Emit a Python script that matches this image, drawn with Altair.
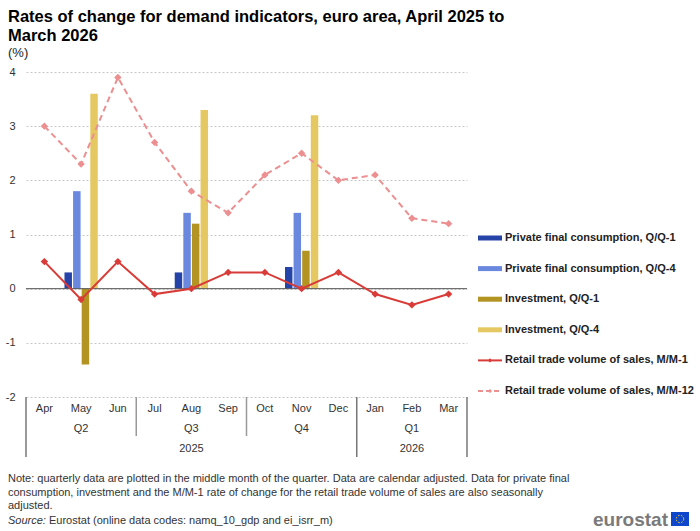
import altair as alt
import pandas as pd

months = ["Apr", "May", "Jun", "Jul", "Aug", "Sep", "Oct", "Nov", "Dec", "Jan", "Feb", "Mar"]
quarter_months = ["May", "Aug", "Nov"]
quarter_labels = ["Q2", "Q3", "Q4", "Q1"]
quarter_label_months = ["May", "Aug", "Nov", "Feb"]
year_labels = ["2025", "2026"]
year_label_months = ["Aug", "Feb"]
quarter_starts = ["Jul", "Oct"]
year_starts = ["Apr", "Jan"]

bar_series = ["Private final consumption, Q/Q-1", "Private final consumption, Q/Q-4",
              "Investment, Q/Q-1", "Investment, Q/Q-4"]
pfc_qq1 = [0.3, 0.3, 0.4]
pfc_qq4 = [1.8, 1.4, 1.4]
inv_qq1 = [-1.4, 1.2, 0.7]
inv_qq4 = [3.6, 3.3, 3.2]

line_series = ["Retail trade volume of sales, M/M-1", "Retail trade volume of sales, M/M-12"]
retail_mm1 = [0.5, -0.2, 0.5, -0.1, 0.0, 0.3, 0.3, 0.0, 0.3, -0.1, -0.3, -0.1]
retail_mm12 = [3.0, 2.3, 3.9, 2.7, 1.8, 1.4, 2.1, 2.5, 2.0, 2.1, 1.3, 1.2]

bar_colors = ["#2644A7", "#6A89DE", "#B39422", "#E6C862"]
red = "#D93C38"
pink = "#EC8F91"

title1 = "Rates of change for demand indicators, euro area, April 2025 to"
title2 = "March 2026"
unit = "(%)"
notes = [
    "Note: quarterly data are plotted in the middle month of the quarter. Data are calendar adjusted. Data for private final",
    "consumption, investment and the M/M-1 rate of change for the retail trade volume of sales are also seasonally",
    "adjusted.",
]
source_label = "Source:"
source_text = "Eurostat (online data codes: namq_10_gdp and ei_isrr_m)"

FONT = "Liberation Sans"

# ---------- data tables ----------
bars = []
for vals, s in zip([pfc_qq1, pfc_qq4, inv_qq1, inv_qq4], bar_series):
    for m, v in zip(quarter_months, vals):
        bars.append({"month": m, "series": s, "value": v})
bars_df = pd.DataFrame(bars)
mm1_df = pd.DataFrame({"month": months, "value": retail_mm1})
mm12_df = pd.DataFrame({"month": months, "value": retail_mm12})

xscale = alt.Scale(domain=months, paddingInner=0, paddingOuter=0)
yscale = alt.Scale(domain=[-2, 4], nice=False)
yaxis = alt.Axis(title=None, values=[-2, -1, 0, 1, 2, 3, 4], ticks=False, domain=False,
                 grid=True, gridColor="#c8c8c8", gridDash=[2, 2], gridWidth=1,
                 labelExpr="'' + datum.value",
                 labelFont=FONT, labelFontSize=11, labelColor="#333", labelPadding=11)

def X(**kw):
    return alt.X("month:N", scale=xscale, axis=None, **kw)

def Y(field="value"):
    return alt.Y(f"{field}:Q", scale=yscale, axis=yaxis)

bar_layer = alt.Chart(bars_df).mark_bar().encode(
    x=X(),
    xOffset=alt.XOffset("series:N", sort=bar_series,
                        scale=alt.Scale(domain=bar_series, paddingInner=0.13, paddingOuter=0.2)),
    y=Y(),
    color=alt.Color("series:N", scale=alt.Scale(domain=bar_series, range=bar_colors), legend=None),
)

zero = alt.Chart(pd.DataFrame({"value": [0]})).mark_rule(color="#555", strokeWidth=1).encode(y=Y())

mm1_layer = alt.Chart(mm1_df).mark_line(
    color=red, strokeWidth=2,
    point=alt.OverlayMarkDef(shape="diamond", size=55, filled=True, color=red),
).encode(x=X(), y=Y())

mm12_layer = alt.Chart(mm12_df).mark_line(
    color=pink, strokeWidth=2, strokeDash=[6, 4],
    point=alt.OverlayMarkDef(shape="diamond", size=55, filled=True, color=pink, strokeDash=[1, 0]),
).encode(x=X(), y=Y())

# ---------- category axis (months / quarters / years) ----------
month_text = alt.Chart(pd.DataFrame({"month": months})).mark_text(
    font=FONT, fontSize=11, color="#333", baseline="middle"
).encode(x=X(), y=alt.value(337), text="month:N")

q_text = alt.Chart(pd.DataFrame({"month": quarter_label_months, "lab": quarter_labels})).mark_text(
    font=FONT, fontSize=11, color="#333", baseline="middle"
).encode(x=X(), y=alt.value(357), text="lab:N")

y_text = alt.Chart(pd.DataFrame({"month": year_label_months, "lab": year_labels})).mark_text(
    font=FONT, fontSize=11, color="#333", baseline="middle"
).encode(x=X(), y=alt.value(377), text="lab:N")

q_sep = alt.Chart(pd.DataFrame({"month": quarter_starts})).mark_rule(color="#999", strokeWidth=1.5).encode(
    x=X(bandPosition=0), y=alt.value(325), y2=alt.value(364))

y_sep = alt.Chart(pd.DataFrame({"month": year_starts})).mark_rule(color="#777", strokeWidth=1.5).encode(
    x=X(bandPosition=0), y=alt.value(325), y2=alt.value(385))

y_sep_end = alt.Chart(pd.DataFrame({"month": [months[-1]]})).mark_rule(color="#777", strokeWidth=1.5).encode(
    x=X(bandPosition=1), y=alt.value(325), y2=alt.value(385))

# ---------- titles ----------
def txt(t, x, y, size=11, weight="normal", style="normal", color="#222", align="left", font=FONT):
    return alt.Chart(pd.DataFrame({"t": [t]})).mark_text(
        font=font, fontSize=size, fontWeight=weight, fontStyle=style, color=color,
        align=align, baseline="alphabetic"
    ).encode(x=alt.value(x), y=alt.value(y), text="t:N")

title_layers = [
    txt(title1, -18, -50, size=16.5, weight="bold", color="#000"),
    txt(title2, -18, -31, size=16.5, weight="bold", color="#000"),
    txt(unit, -18, -15, size=13, color="#222"),
]
note_layers = [txt(n, -18, 410 + 13.5 * i, size=11, color="#333") for i, n in enumerate(notes)]
note_layers.append(txt(source_label, -18, 452, size=11, style="italic", color="#333"))
note_layers.append(txt(source_text, 23, 452, size=11, color="#333"))

# ---------- legend ----------
all_series = bar_series + line_series
leg_y = [166 + 30.6 * i for i in range(len(all_series))]
leg_df = pd.DataFrame({"series": all_series, "ly": leg_y})

leg_text = alt.Chart(leg_df).mark_text(
    font=FONT, fontSize=11, fontWeight="bold", color="#222", align="left", baseline="middle"
).encode(x=alt.value(479), y=alt.Y("ly:Q", scale=None), text="series:N")

leg_bars = alt.Chart(leg_df.iloc[:4]).mark_bar(height=5).encode(
    x=alt.value(452), x2=alt.value(476), y=alt.Y("ly:Q", scale=None),
    color=alt.Color("series:N", scale=alt.Scale(domain=bar_series, range=bar_colors), legend=None),
)

leg_l1 = alt.Chart(leg_df.iloc[[4]]).mark_rule(color=red, strokeWidth=2).encode(
    x=alt.value(452), x2=alt.value(476), y=alt.Y("ly:Q", scale=None))
leg_l2 = alt.Chart(leg_df.iloc[[5]]).mark_rule(color=pink, strokeWidth=2, strokeDash=[5, 3]).encode(
    x=alt.value(452), x2=alt.value(476), y=alt.Y("ly:Q", scale=None))
leg_p1 = alt.Chart(leg_df.iloc[[4]]).mark_point(shape="diamond", size=18, filled=True, color=red, opacity=1).encode(
    x=alt.value(464), y=alt.Y("ly:Q", scale=None))
leg_p2 = alt.Chart(leg_df.iloc[[5]]).mark_point(shape="diamond", size=18, filled=True, color=pink, opacity=1).encode(
    x=alt.value(464), y=alt.Y("ly:Q", scale=None))

# ---------- logo ----------
logo_text = txt("eurostat", 642, 454, size=19, weight="bold", color="#7a7a7a", align="right")
logo_flag = alt.Chart(pd.DataFrame({"t": ["EU"]})).mark_rect(color="#0E47CB").encode(
    x=alt.value(645), x2=alt.value(663), y=alt.value(440), y2=alt.value(454))
logo_stars = alt.Chart(pd.DataFrame({"t": ["EU"]})).mark_point(
    shape="circle", size=55, filled=False, color="#FFD617", strokeWidth=1, strokeDash=[1.5, 1.5], opacity=1
).encode(x=alt.value(654), y=alt.value(447))

chart = alt.layer(
    bar_layer, zero, mm12_layer, mm1_layer,
    month_text, q_text, y_text, q_sep, y_sep, y_sep_end,
    *title_layers, *note_layers,
    leg_bars, leg_l1, leg_l2, leg_p1, leg_p2, leg_text,
    logo_text, logo_flag, logo_stars,
).resolve_scale(color="independent").properties(
    width=441, height=325,
    autosize=alt.AutoSizeParams(type="none"),
    padding={"left": 26, "top": 72, "right": 233, "bottom": 134},
).configure(background="white", view=alt.ViewConfig(stroke=None))

chart.save("out.html", embed_options={"renderer": "svg", "actions": False})
